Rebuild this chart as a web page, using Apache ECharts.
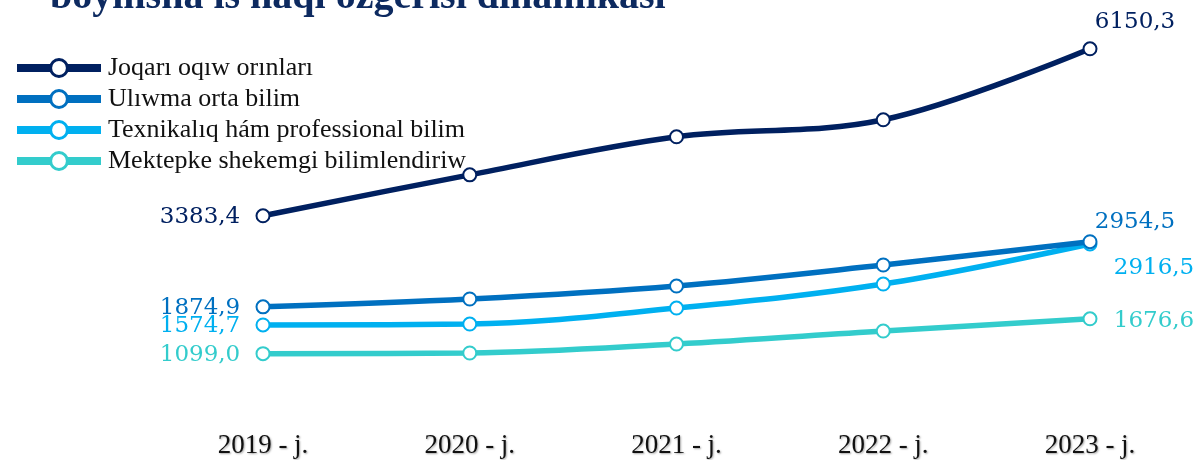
<!DOCTYPE html>
<html><head><meta charset="utf-8">
<script src="https://cdn.jsdelivr.net/npm/echarts@6/dist/echarts.min.js"></script>
<style>html,body{margin:0;padding:0;background:#fff}#c{width:1195px;height:460px}</style>
</head><body><div id="c"></div>
<script>
const titleText = "boyınsha is haqı ózgerisi dinamikası";
const categories = ["2019 - j.", "2020 - j.", "2021 - j.", "2022 - j.", "2023 - j."];
const seriesNames = ["Joqarı oqıw orınları", "Ulıwma orta bilim", "Texnikalıq hám professional bilim", "Mektepke shekemgi bilimlendiriw"];
const joqari = [3383.4, 4062, 4692, 4974, 6150.3];
const uliwma = [1874.9, 2005, 2220, 2568, 2954.5];
const texnikaliq = [1574.7, 1590, 1855, 2253, 2916.5];
const mektepke = [1099.0, 1110, 1259, 1474, 1676.6];
const colors = ["#002060", "#0070C0", "#00B0F0", "#33CCCC"];
const firstOffsets = [[-63, 1], [-63, 1], [-63, 1], [-63, 1]];
const lastOffsets = [[45, -27], [45, -20], [64, 24], [64, 2]];

const fmt = v => v.toFixed(1).replace('.', ',');
const allValues = [joqari, uliwma, texnikaliq, mektepke];

const series = allValues.map((vals, s) => ({
  name: seriesNames[s],
  type: 'line',
  smooth: 0.35,
  symbol: 'circle',
  symbolSize: 13,
  z: 10 - s,
  lineStyle: { width: 5.5, color: colors[s] },
  itemStyle: { color: '#fff', borderColor: colors[s], borderWidth: 2 },
  data: vals.map((v, i) => {
    const d = { value: v };
    if (i === 0 || i === vals.length - 1) {
      d.label = {
        show: true,
        position: 'inside',
        offset: i === 0 ? firstOffsets[s] : lastOffsets[s],
        formatter: p => fmt(p.value),
        color: colors[s],
        fontFamily: 'DejaVu Serif',
        fontSize: 23
      };
    }
    return d;
  })
}));

const chart = echarts.init(document.getElementById('c'));
chart.setOption({
  animation: false,
  color: colors,
  title: {
    text: titleText,
    left: 45,
    top: -27,
    textStyle: { fontFamily: 'Liberation Serif', fontWeight: 'bold', fontSize: 40, color: '#0d2a60' }
  },
  legend: {
    orient: 'vertical',
    left: 8,
    top: 50,
    itemWidth: 84,
    itemHeight: 21,
    itemGap: 5,
    lineStyle: { width: 8 },
    itemStyle: { color: '#fff', borderWidth: 3 },
    textStyle: { fontFamily: 'Liberation Serif', fontSize: 26, color: '#111', padding: [0, 0, 0, 2] },
    data: seriesNames
  },
  grid: { left: 263, right: 105, top: 27.7, bottom: 40 },
  xAxis: {
    type: 'category',
    data: categories,
    boundaryGap: false,
    axisLine: { show: false },
    axisTick: { show: false },
    axisLabel: {
      margin: 12,
      fontFamily: 'Liberation Serif',
      fontSize: 27,
      color: '#111',
      textShadowColor: 'rgba(0,0,0,0.35)',
      textShadowBlur: 2,
      textShadowOffsetX: 1,
      textShadowOffsetY: 1
    },
    splitLine: { show: false }
  },
  yAxis: { type: 'value', min: 0, max: 6500, show: false, splitLine: { show: false } },
  series
});
</script></body></html>
